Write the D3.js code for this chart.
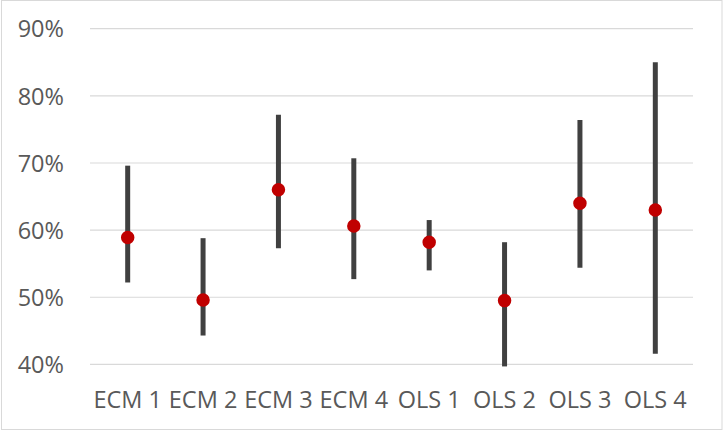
<!DOCTYPE html>
<html>
<head>
<meta charset="utf-8">
<script src="https://cdn.jsdelivr.net/npm/d3@7"></script>
<style>
  html, body { margin: 0; padding: 0; background: #fff; }
  svg { display: block; }
  text { font-family: "Open Sans", sans-serif; fill: #595959; }
</style>
</head>
<body>
<svg id="chart" width="723" height="430"></svg>
<script>
// Model labels and their interval estimates (percent)
const categories = ["ECM 1", "ECM 2", "ECM 3", "ECM 4", "OLS 1", "OLS 2", "OLS 3", "OLS 4"];
const lowValues  = [52.2, 44.3, 57.3, 52.7, 54.0, 39.7, 54.4, 41.6];
const highValues = [69.6, 58.8, 77.2, 70.7, 61.5, 58.2, 76.4, 85.0];
const midValues  = [58.9, 49.6, 66.0, 60.6, 58.2, 49.5, 64.0, 63.0];
const yTicks = [40, 50, 60, 70, 80, 90];

const svg = d3.select("#chart");
const W = 723, H = 430;
const margin = { left: 90, right: 30, top: 28.7, bottom: 65.6 };
const fontSize = 23.5;

// Outer frame
svg.append("rect")
  .attr("x", 1.5).attr("y", 0.5)
  .attr("width", W - 2.5).attr("height", H - 1)
  .attr("fill", "#fff").attr("stroke", "#d9d9d9").attr("stroke-width", 1);

const x = d3.scaleBand()
  .domain(categories)
  .range([margin.left, W - margin.right]);

const y = d3.scaleLinear()
  .domain([40, 90])
  .range([H - margin.bottom, margin.top]);

// Horizontal gridlines
svg.append("g")
  .selectAll("line")
  .data(yTicks)
  .join("line")
  .attr("x1", margin.left).attr("x2", W - margin.right)
  .attr("y1", d => y(d)).attr("y2", d => y(d))
  .attr("stroke", "#d9d9d9").attr("stroke-width", 1.2);

// Y axis labels
const yAxis = d3.axisLeft(y).tickValues(yTicks).tickFormat(d => d + "%").tickSize(0).tickPadding(0);
const gy = svg.append("g")
  .attr("transform", `translate(64,0)`)
  .call(yAxis);
gy.select(".domain").remove();
gy.selectAll("text")
  .attr("font-family", "Open Sans, sans-serif")
  .attr("font-size", fontSize)
  .attr("fill", "#595959")
  .attr("dy", "0.35em");

// X axis labels
const xAxis = d3.axisBottom(x).tickSize(0).tickPadding(0);
const gx = svg.append("g")
  .attr("transform", `translate(0,${H - margin.bottom})`)
  .call(xAxis);
gx.select(".domain").remove();
gx.selectAll("text")
  .attr("font-family", "Open Sans, sans-serif")
  .attr("font-size", fontSize)
  .attr("fill", "#595959")
  .attr("dy", 0)
  .attr("y", 43.5);

// Range bars
svg.append("g")
  .selectAll("line")
  .data(categories)
  .join("line")
  .attr("x1", d => x(d) + x.bandwidth() / 2)
  .attr("x2", d => x(d) + x.bandwidth() / 2)
  .attr("y1", (d, i) => y(highValues[i]))
  .attr("y2", (d, i) => y(lowValues[i]))
  .attr("stroke", "#404040")
  .attr("stroke-width", 5);

// Point estimates
svg.append("g")
  .selectAll("circle")
  .data(categories)
  .join("circle")
  .attr("cx", d => x(d) + x.bandwidth() / 2)
  .attr("cy", (d, i) => y(midValues[i]))
  .attr("r", 5.5)
  .attr("fill", "#c00000")
  .attr("stroke", "#c00000")
  .attr("stroke-width", 2.5);
</script>
</body>
</html>
